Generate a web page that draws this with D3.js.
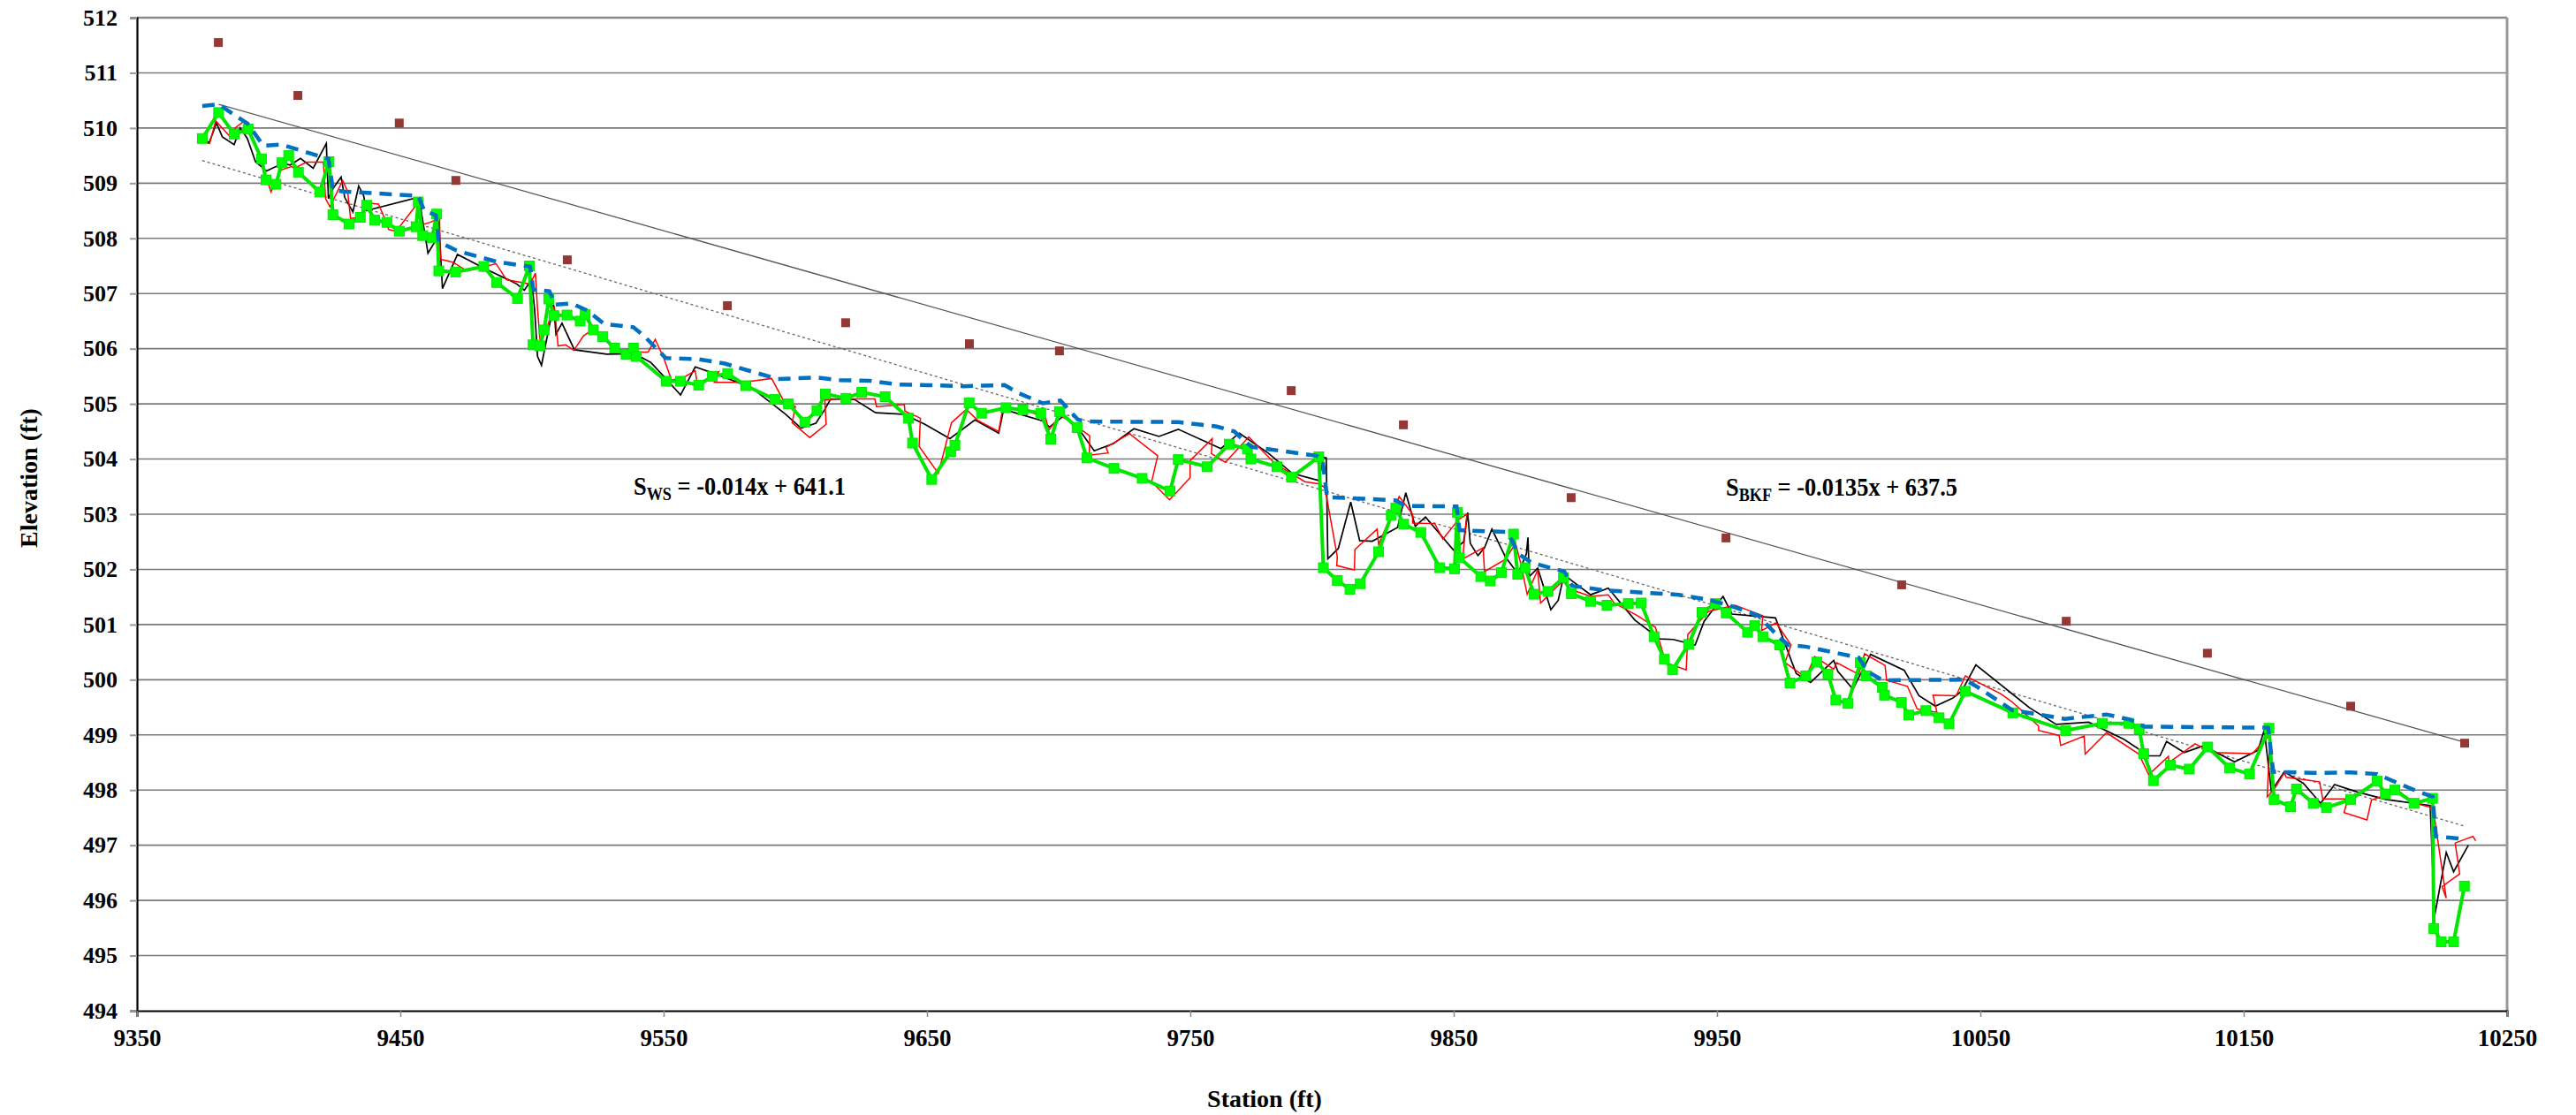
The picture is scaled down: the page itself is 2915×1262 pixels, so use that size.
<!DOCTYPE html>
<html><head><meta charset="utf-8">
<script src="https://cdn.jsdelivr.net/npm/d3@7"></script>
<style>html,body{margin:0;padding:0;background:#fff;}svg{display:block;}</style>
</head><body>
<svg id="chart" width="2915" height="1262"></svg>
<script>
// ---------- DATA ----------
const xTicks = [9350, 9450, 9550, 9650, 9750, 9850, 9950, 10050, 10150, 10250];
const yTicks = d3.range(494, 513, 1);

// Green thalweg with markers [station, elevation]
const thalwegNew = [
[9374.8,509.81],[9381.0,510.28],[9386.9,509.89],[9392.2,509.98],[9397.3,509.44],[9399.0,509.06],[9402.8,508.98],[9405.0,509.37],[9407.6,509.50],[9411.3,509.20],[9419.4,508.84],[9422.9,509.39],[9424.4,508.43],[9430.5,508.26],[9434.8,508.38],[9437.2,508.60],[9440.3,508.33],[9444.9,508.29],[9449.6,508.13],[9456.0,508.21],[9456.8,508.66],[9458.5,508.05],[9462.1,508.01],[9463.8,508.44],[9464.6,507.41],[9471.0,507.39],[9481.7,507.49],[9486.6,507.20],[9494.5,506.91],[9499.0,507.50],[9500.4,506.07],[9503.0,506.05],[9504.6,506.34],[9506.4,506.90],[9508.3,506.60],[9513.3,506.61],[9518.3,506.50],[9520.2,506.62],[9523.3,506.34],[9526.9,506.22],[9531.4,506.01],[9535.7,505.90],[9538.5,506.01],[9539.6,505.86],[9551.0,505.41],[9556.4,505.41],[9563.3,505.34],[9568.5,505.50],[9574.3,505.55],[9581.2,505.33],[9592.2,505.08],[9597.4,505.00],[9603.6,504.67],[9608.2,504.88],[9611.4,505.18],[9619.2,505.10],[9625.2,505.21],[9634.1,505.13],[9643.0,504.74],[9644.5,504.29],[9651.8,503.63],[9659.0,504.13],[9660.6,504.25],[9666.0,505.02],[9670.7,504.83],[9680.0,504.93],[9686.4,504.89],[9693.2,504.83],[9697.0,504.36],[9700.3,504.86],[9707.0,504.57],[9710.7,504.02],[9721.0,503.83],[9731.7,503.65],[9742.3,503.42],[9745.4,503.99],[9756.4,503.86],[9764.8,504.27],[9771.7,504.18],[9773.0,504.00],[9782.9,503.86],[9788.4,503.67],[9798.8,504.04],[9800.5,502.03],[9805.8,501.80],[9810.6,501.64],[9814.5,501.74],[9821.5,502.32],[9826.3,502.98],[9828.0,503.11],[9831.0,502.82],[9837.5,502.67],[9844.7,502.03],[9850.3,502.01],[9851.4,503.03],[9852.2,502.21],[9860.3,501.87],[9863.9,501.79],[9868.1,501.94],[9872.7,502.64],[9874.3,501.91],[9877.1,502.03],[9880.5,501.55],[9885.8,501.60],[9891.7,501.85],[9894.7,501.56],[9902.0,501.42],[9908.2,501.35],[9916.3,501.38],[9921.2,501.39],[9926.1,500.78],[9930.0,500.37],[9933.1,500.18],[9939.2,500.64],[9944.3,501.22],[9949.3,501.38],[9953.5,501.21],[9961.6,500.86],[9964.3,500.98],[9967.4,500.78],[9973.8,500.63],[9977.7,499.94],[9983.7,500.07],[9987.9,500.32],[9992.1,500.10],[9995.1,499.63],[9999.7,499.57],[10004.4,500.31],[10006.6,500.07],[10012.8,499.86],[10013.6,499.72],[10020.0,499.59],[10022.8,499.36],[10029.3,499.44],[10034.3,499.31],[10038.1,499.20],[10044.3,499.79],[10062.3,499.40],[10082.4,499.08],[10096.3,499.21],[10106.4,499.21],[10110.3,499.11],[10112.0,498.66],[10115.7,498.17],[10122.2,498.45],[10129.3,498.38],[10136.3,498.78],[10144.6,498.40],[10152.2,498.29],[10159.6,499.12],[10161.5,497.83],[10167.8,497.70],[10170.0,498.02],[10176.4,497.76],[10181.4,497.68],[10190.6,497.83],[10200.7,498.16],[10203.8,497.93],[10207.4,498.00],[10214.7,497.76],[10221.7,497.85],[10222.2,495.49],[10225.0,495.25],[10229.7,495.25],[10233.8,496.26]
];

// Blue dashed water surface
const waterSurface = [
[9374.8,510.40],[9381.0,510.43],[9392.0,510.08],[9398.0,509.68],[9404.8,509.70],[9422.7,509.44],[9424.4,508.88],[9428.3,508.85],[9456.8,508.77],[9459.1,508.50],[9463.5,508.42],[9464.6,507.94],[9471.3,507.78],[9487.0,507.57],[9499.3,507.49],[9500.5,507.07],[9506.6,507.04],[9508.8,506.80],[9515.0,506.82],[9521.1,506.69],[9527.3,506.45],[9538.5,506.39],[9543.0,506.21],[9550.8,505.83],[9563.1,505.81],[9573.2,505.73],[9583.2,505.59],[9593.3,505.45],[9607.8,505.48],[9616.8,505.43],[9628.0,505.42],[9639.2,505.35],[9650.3,505.34],[9663.8,505.32],[9679.4,505.34],[9685.0,505.19],[9694.0,505.01],[9700.7,505.06],[9707.4,504.71],[9711.9,504.68],[9745.4,504.67],[9760.0,504.59],[9766.7,504.50],[9769.5,504.37],[9773.3,504.22],[9798.0,504.06],[9800.2,503.99],[9801.9,503.31],[9815.9,503.28],[9828.2,503.25],[9831.5,503.15],[9851.1,503.14],[9852.2,502.71],[9869.6,502.68],[9871.8,502.55],[9874.6,502.28],[9879.7,502.12],[9892.0,501.96],[9895.0,501.70],[9907.6,501.62],[9935.5,501.54],[9945.6,501.46],[9954.6,501.35],[9965.8,501.16],[9972.5,500.82],[9977.0,500.63],[9983.7,500.60],[10003.8,500.40],[10007.2,500.15],[10012.8,499.99],[10044.1,500.00],[10048.5,499.88],[10062.0,499.45],[10082.1,499.29],[10097.8,499.37],[10106.7,499.28],[10112.3,499.15],[10159.3,499.13],[10161.2,498.33],[10176.0,498.31],[10190.6,498.32],[10200.7,498.29],[10204.0,498.22],[10215.2,497.99],[10221.7,497.88],[10223.0,497.16],[10232.0,497.12]
];

// Black thin line
const thalwegBlack = [
[9376.3,509.77],[9377.4,509.73],[9380.2,510.09],[9382.4,509.84],[9386.9,509.70],[9389.2,510.00],[9391.9,509.81],[9395.0,509.39],[9399.2,509.22],[9405.4,509.36],[9408.2,509.33],[9412.1,509.45],[9416.9,509.27],[9421.9,509.72],[9422.7,508.72],[9424.4,508.90],[9427.5,509.11],[9428.9,508.74],[9432.0,508.48],[9434.2,508.95],[9436.1,508.77],[9437.0,508.50],[9455.7,508.73],[9457.4,508.65],[9460.5,507.73],[9463.0,507.93],[9464.6,508.31],[9466.0,507.09],[9471.7,507.71],[9482.6,507.44],[9491.0,507.25],[9494.3,507.17],[9497.1,507.06],[9499.8,507.25],[9501.0,506.72],[9502.1,505.86],[9503.6,505.70],[9508.2,506.80],[9509.1,506.26],[9511.4,506.46],[9516.1,505.98],[9528.4,505.90],[9539.0,505.91],[9545.1,505.75],[9550.8,505.46],[9556.4,505.16],[9562.0,505.67],[9569.8,505.54],[9583.2,505.30],[9596.1,504.82],[9602.2,504.56],[9607.8,504.65],[9611.2,504.90],[9613.4,505.09],[9622.4,505.08],[9630.5,504.84],[9641.4,504.81],[9649.2,504.63],[9658.7,504.37],[9668.2,504.71],[9677.2,504.47],[9679.1,504.90],[9694.0,504.69],[9696.5,504.58],[9701.8,504.78],[9707.4,504.56],[9713.5,504.15],[9720.8,504.28],[9728.6,504.55],[9738.1,504.41],[9745.4,504.54],[9761.6,504.19],[9768.6,504.47],[9779.8,504.10],[9788.7,503.74],[9798.8,503.61],[9800.5,504.03],[9801.6,504.02],[9802.2,502.19],[9806.2,502.38],[9810.9,503.22],[9814.3,502.52],[9819.1,502.51],[9828.7,502.76],[9831.8,503.39],[9835.4,502.78],[9839.3,502.95],[9849.9,502.35],[9853.8,502.50],[9855.3,503.03],[9856.3,502.47],[9859.2,502.25],[9861.7,502.39],[9864.5,502.73],[9869.6,502.23],[9874.4,501.92],[9877.6,502.28],[9878.2,502.58],[9878.7,501.87],[9881.9,502.02],[9886.9,501.27],[9889.7,501.44],[9891.4,501.80],[9893.0,501.86],[9902.0,501.54],[9908.7,501.66],[9918.8,501.08],[9928.3,500.74],[9933.3,500.73],[9941.7,500.63],[9945.1,501.06],[9952.3,501.51],[9955.7,501.19],[9972.2,501.12],[9978.1,500.36],[9980.1,500.11],[9985.5,499.95],[9994.3,500.35],[9995.9,500.15],[10001.6,499.83],[10008.3,500.46],[10021.1,500.17],[10026.7,499.71],[10032.9,499.52],[10039.6,499.67],[10043.0,499.80],[10048.3,500.27],[10068.7,499.49],[10078.8,499.19],[10091.1,499.23],[10104.5,498.92],[10114.0,498.62],[10118.2,498.62],[10120.7,498.88],[10127.4,498.68],[10134.7,498.80],[10146.5,498.51],[10155.4,498.72],[10157.8,499.09],[10160.5,497.98],[10165.4,498.33],[10172.7,498.12],[10179.2,497.76],[10184.5,498.10],[10192.8,497.97],[10204.0,497.83],[10220.8,497.72],[10222.5,495.72],[10226.9,496.87],[10229.7,496.52],[10235.3,497.00]
];

// Red thin line
const thalwegRed = [
[9376.3,509.73],[9377.6,509.72],[9379.9,510.13],[9385.2,509.85],[9387.5,510.01],[9390.6,510.12],[9395.3,509.68],[9399.2,509.09],[9400.9,508.84],[9404.8,509.24],[9408.7,509.30],[9409.8,509.27],[9414.3,509.38],[9420.8,509.38],[9421.6,508.72],[9423.3,508.57],[9428.1,509.05],[9430.0,508.85],[9431.1,508.36],[9434.5,508.38],[9437.2,508.64],[9441.7,508.62],[9444.0,508.37],[9445.6,508.16],[9448.4,508.13],[9455.7,508.58],[9457.1,508.66],[9458.0,508.24],[9461.3,508.29],[9463.8,508.34],[9464.9,508.37],[9465.2,507.62],[9469.9,507.57],[9475.3,507.41],[9486.4,507.54],[9490.3,507.25],[9499.3,507.17],[9501.3,507.37],[9502.1,506.72],[9503.2,506.07],[9507.1,506.57],[9508.5,506.77],[9509.9,506.05],[9512.8,506.07],[9515.9,505.97],[9519.5,506.23],[9522.8,506.34],[9528.4,506.13],[9531.8,505.94],[9544.1,505.94],[9546.8,506.17],[9550.2,505.81],[9553.0,505.43],[9558.0,505.49],[9562.0,505.60],[9562.8,505.35],[9570.9,505.58],[9569.2,505.39],[9579.9,505.39],[9591.0,505.46],[9595.5,505.06],[9600.0,504.95],[9598.8,504.66],[9605.5,504.39],[9611.7,504.63],[9611.2,505.07],[9616.8,505.09],[9630.2,505.09],[9630.8,504.95],[9641.4,504.99],[9641.6,504.87],[9647.5,504.74],[9647.0,504.23],[9654.3,503.74],[9659.3,504.66],[9664.9,504.90],[9669.3,504.70],[9677.2,504.50],[9678.9,504.95],[9688.4,504.87],[9695.1,504.74],[9696.2,504.52],[9700.4,504.79],[9703.5,504.71],[9711.8,504.42],[9711.6,504.07],[9718.8,504.11],[9718.0,504.21],[9726.9,504.46],[9737.6,504.06],[9735.3,503.59],[9742.1,503.26],[9749.9,503.66],[9749.9,503.97],[9758.3,504.37],[9758.0,504.10],[9763.3,503.94],[9772.2,504.40],[9782.3,503.91],[9793.5,503.59],[9799.1,503.55],[9801.1,503.48],[9805.8,502.23],[9805.6,502.07],[9812.3,501.99],[9812.5,502.36],[9820.9,502.73],[9821.5,502.45],[9829.3,503.32],[9834.4,503.00],[9834.4,502.84],[9842.8,502.83],[9845.9,502.55],[9851.7,502.90],[9855.0,503.00],[9853.4,502.19],[9861.2,502.39],[9861.7,501.96],[9869.6,502.18],[9873.5,502.47],[9875.5,502.10],[9877.9,501.55],[9881.9,501.99],[9883.0,501.39],[9891.4,501.79],[9894.2,501.64],[9902.0,501.51],[9908.7,501.54],[9910.9,501.39],[9919.8,501.16],[9926.6,500.95],[9930.5,500.31],[9938.3,500.18],[9938.9,500.82],[9946.7,501.24],[9956.8,501.35],[9967.4,501.16],[9966.9,500.89],[9972.5,501.03],[9978.1,500.63],[9975.8,500.31],[9983.7,500.04],[9987.1,500.42],[9994.3,500.19],[9995.4,500.31],[10003.8,500.10],[10006.0,500.47],[10013.8,500.26],[10014.4,499.99],[10022.3,499.88],[10026.0,499.47],[10033.5,499.41],[10032.0,499.72],[10040.8,499.71],[10044.3,500.07],[10057.5,499.75],[10062.0,499.60],[10072.1,499.16],[10072.1,499.08],[10079.9,498.99],[10080.5,498.81],[10089.4,498.98],[10089.8,498.65],[10097.9,499.04],[10110.2,498.65],[10113.9,498.28],[10121.4,498.61],[10121.6,498.50],[10131.5,498.84],[10138.2,498.68],[10153.3,498.66],[10157.4,498.88],[10160.0,499.00],[10158.9,497.88],[10161.5,498.01],[10165.4,498.31],[10166.2,498.23],[10178.8,498.15],[10180.0,497.84],[10189.5,497.84],[10188.1,497.59],[10196.8,497.46],[10198.5,497.82],[10204.0,497.91],[10209.6,497.96],[10214.1,497.77],[10220.8,497.69],[10222.5,497.48],[10226.9,496.04],[10225.3,496.25],[10232.0,496.48],[10230.3,497.04],[10237.0,497.16],[10238.1,497.08]
];

// Brown bankfull points
const bankfull = [
[9380.9,511.55],[9411.1,510.59],[9449.6,510.09],[9471.1,509.05],[9513.4,507.61],[9574.2,506.78],[9619.1,506.47],[9666.1,506.09],[9700.3,505.96],[9788.3,505.24],[9830.9,504.62],[9894.6,503.30],[9953.4,502.57],[10020.1,501.72],[10082.6,501.06],[10136.2,500.48],[10190.6,499.52],[10233.9,498.85]
];

// Trend lines (end points)
const bkfTrend = [[9381.0,510.43],[10233.6,498.87]];
const wsTrend = [[9374.8,509.41],[10233.6,497.35]];

// ---------- DRAW ----------
const svg = d3.select("#chart");
svg.append("rect").attr("width",2915).attr("height",1262).attr("fill","#fff");

const L = 155, R = 2837, T = 20, B = 1144;
const x = d3.scaleLinear().domain([9350, 10250]).range([L, R]);
const y = d3.scaleLinear().domain([494, 512]).range([B, T]);
const font = "'Liberation Serif','Times New Roman',serif";

// grid lines
svg.append("g").selectAll("line").data(yTicks.filter(v => v > 494 && v < 512)).join("line")
  .attr("x1", L).attr("x2", R).attr("y1", d => y(d)).attr("y2", d => y(d))
  .attr("stroke", "#7a7a7a").attr("stroke-width", 1.6);

// frame (top & right gray)
svg.append("line").attr("x1",L).attr("x2",R).attr("y1",y(512)).attr("y2",y(512)).attr("stroke","#8a8a8a").attr("stroke-width",2.5);
svg.append("line").attr("x1",R).attr("x2",R).attr("y1",T).attr("y2",B).attr("stroke","#9a9a9a").attr("stroke-width",3);

// y axis
const yAxis = svg.append("g").attr("transform", `translate(${L},0)`)
  .call(d3.axisLeft(y).tickValues(yTicks).tickSize(8).tickPadding(14).tickFormat(d3.format("d")));
yAxis.select(".domain").attr("stroke","#000").attr("stroke-width",2.2);
yAxis.selectAll(".tick line").attr("stroke","#999").attr("stroke-width",2);
yAxis.selectAll("text").attr("font-family",font).attr("font-weight","bold").attr("font-size",26).attr("fill","#000");

// x axis
const xAxis = svg.append("g").attr("transform", `translate(0,${B})`)
  .call(d3.axisBottom(x).tickValues(xTicks).tickSize(7).tickPadding(14).tickFormat(d3.format("d")));
xAxis.select(".domain").attr("stroke","#000").attr("stroke-width",2.2);
xAxis.selectAll(".tick line").attr("stroke","#888").attr("stroke-width",1.5);
xAxis.selectAll("text").attr("font-family",font).attr("font-weight","bold").attr("font-size",27).attr("fill","#000");

// axis titles
svg.append("text").attr("x",1431).attr("y",1253).attr("text-anchor","middle")
  .attr("font-family",font).attr("font-weight","bold").attr("font-size",28).text("Station (ft)");
svg.append("text").attr("transform","translate(42,541) rotate(-90)").attr("text-anchor","middle")
  .attr("font-family",font).attr("font-weight","bold").attr("font-size",28).text("Elevation (ft)");

const line = d3.line().x(d => x(d[0])).y(d => y(d[1]));

// trend lines
svg.append("path").datum(bkfTrend).attr("d", line).attr("fill","none").attr("stroke","#555").attr("stroke-width",1.3);
svg.append("path").datum(wsTrend).attr("d", line).attr("fill","none").attr("stroke","#666").attr("stroke-width",1.3).attr("stroke-dasharray","3,3");

// black & red lines
svg.append("path").datum(thalwegBlack).attr("d", line).attr("fill","none").attr("stroke","#000").attr("stroke-width",1.7).attr("stroke-linejoin","miter");
svg.append("path").datum(thalwegRed).attr("d", line).attr("fill","none").attr("stroke","#ff0000").attr("stroke-width",1.5);

// green thalweg
svg.append("path").datum(thalwegNew).attr("d", line).attr("fill","none").attr("stroke","#00e600").attr("stroke-width",4);
svg.append("g").selectAll("rect").data(thalwegNew).join("rect")
  .attr("x", d => x(d[0]) - 5.5).attr("y", d => y(d[1]) - 5.5)
  .attr("width", 11).attr("height", 11).attr("fill","#00ff00").attr("stroke","#00e600").attr("stroke-width",1);

// water surface
svg.append("path").datum(waterSurface).attr("d", line).attr("fill","none").attr("stroke","#0070c0")
  .attr("stroke-width",4.5).attr("stroke-dasharray","14,9");

// bankfull points
svg.append("g").selectAll("rect").data(bankfull).join("rect")
  .attr("x", d => x(d[0]) - 5).attr("y", d => y(d[1]) - 5)
  .attr("width", 10).attr("height", 10).attr("fill","#953735");

// equations
function eq(xp, yp, sub, rest, len) {
  const t = svg.append("text").attr("x", xp).attr("y", yp)
    .attr("font-family", font).attr("font-weight","bold").attr("font-size",29).attr("fill","#000")
    .attr("textLength", len).attr("lengthAdjust","spacingAndGlyphs");
  t.append("tspan").text("S");
  t.append("tspan").attr("font-size",20).attr("dy",6).text(sub);
  t.append("tspan").attr("dy",-6).text(" " + rest);
}
eq(717, 560, "WS", "= -0.014x + 641.1", 240);
eq(1953, 561, "BKF", "= -0.0135x + 637.5", 262);
</script>
</body></html>
